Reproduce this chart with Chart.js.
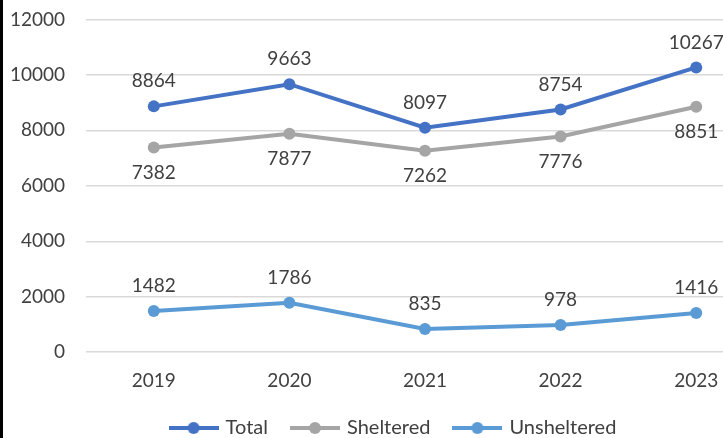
<!DOCTYPE html>
<html>
<head>
<meta charset="utf-8">
<script src="https://cdn.jsdelivr.net/npm/chart.js@4/dist/chart.umd.min.js"></script>
<style>
  html, body { margin: 0; padding: 0; background: #fff; overflow: hidden; }
  #wrap { width: 723px; height: 438px; overflow: hidden; position: relative; }
  #wrap::before { content: ''; position: absolute; left: 0; top: 0; width: 3px; height: 438px; background: #000; z-index: 2; }
  #chart { position: absolute; left: 0; top: -13px; }
</style>
</head>
<body>
<div id="wrap"><canvas id="chart" width="788" height="469"></canvas></div>
<script>
// Data
const years = ['2019', '2020', '2021', '2022', '2023'];
const total = [8864, 9663, 8097, 8754, 10267];
const sheltered = [7382, 7877, 7262, 7776, 8851];
const unsheltered = [1482, 1786, 835, 978, 1416];
const yTicks = [0, 2000, 4000, 6000, 8000, 10000, 12000];

const FONT = 'Lato, "Open Sans", sans-serif';
const TEXT = '#404040';

// legend marker: line with a dot
function lineDot(color) {
    const c = document.createElement('canvas');
    c.width = 50; c.height = 14;
    const g = c.getContext('2d');
    g.strokeStyle = color;
    g.lineWidth = 4;
    g.beginPath(); g.moveTo(0, 7); g.lineTo(50, 7); g.stroke();
    g.fillStyle = color;
    g.beginPath(); g.arc(25, 7, 6, 0, Math.PI * 2); g.fill();
    return c;
}

// simple data label plugin
const valueLabels = {
    id: 'valueLabels',
    afterDatasetsDraw(chart) {
        const ctx = chart.ctx;
        ctx.save();
        ctx.font = '19px ' + FONT;
        ctx.fillStyle = TEXT;
        ctx.textAlign = 'center';
        ctx.textBaseline = 'middle';
        chart.data.datasets.forEach((ds, i) => {
            chart.getDatasetMeta(i).data.forEach((pt, j) => {
                const dy = ds.labelPos[j] === 'above' ? -25 : 25;
                ctx.fillText(String(ds.data[j]), pt.x, pt.y + dy);
            });
        });
        ctx.restore();
    }
};

// nudge the legend a little up/right
const legendShift = {
    id: 'legendShift',
    afterInit(chart) {
        const lg = chart.legend;
        const draw = lg.draw;
        lg.draw = function (...args) {
            const c = this.ctx;
            c.save();
            c.translate(12, -8);
            draw.apply(this, args);
            c.restore();
        };
    }
};

const ctx = document.getElementById('chart').getContext('2d');
new Chart(ctx, {
    type: 'line',
    data: {
        labels: years,
        datasets: [
            { label: 'Total', data: total, borderColor: '#4472C4', backgroundColor: '#4472C4',
              labelPos: ['above', 'above', 'above', 'above', 'above'], marker: lineDot('#4472C4') },
            { label: 'Sheltered', data: sheltered, borderColor: '#A5A5A5', backgroundColor: '#A5A5A5',
              labelPos: ['below', 'below', 'below', 'below', 'below'], marker: lineDot('#A5A5A5') },
            { label: 'Unsheltered', data: unsheltered, borderColor: '#5B9BD5', backgroundColor: '#5B9BD5',
              labelPos: ['above', 'above', 'above', 'above', 'above'], marker: lineDot('#5B9BD5') }
        ]
    },
    options: {
        responsive: false,
        animation: false,
        layout: { padding: { left: 0, right: 24, top: 0, bottom: 0 } },
        elements: {
            line: { borderWidth: 4, tension: 0 },
            point: { radius: 6, borderWidth: 0, hoverRadius: 6 }
        },
        scales: {
            x: {
                offset: true,
                grid: { display: false },
                border: { display: false },
                ticks: { color: TEXT, font: { family: FONT, size: 19 }, padding: 9 }
            },
            y: {
                min: 0, max: 12000,
                afterBuildTicks: s => { s.ticks = yTicks.map(v => ({ value: v })); },
                afterFit: s => { s.width = 86; },
                grid: { color: '#D9D9D9', lineWidth: 1.5, drawTicks: false },
                border: { display: false },
                ticks: { color: TEXT, font: { family: FONT, size: 19 }, padding: 21, callback: v => String(v) }
            }
        },
        plugins: {
            tooltip: { enabled: false },
            legend: {
                position: 'bottom',
                labels: {
                    color: TEXT,
                    font: { family: FONT, size: 20 },
                    usePointStyle: true,
                    pointStyleWidth: 44,
                    boxHeight: 14,
                    padding: 25,
                    generateLabels: chart => chart.data.datasets.map((ds, i) => ({
                        text: ds.label,
                        pointStyle: ds.marker,
                        fontColor: TEXT,
                        datasetIndex: i,
                        hidden: false
                    }))
                }
            }
        }
    },
    plugins: [valueLabels, legendShift]
});
</script>
</body>
</html>
